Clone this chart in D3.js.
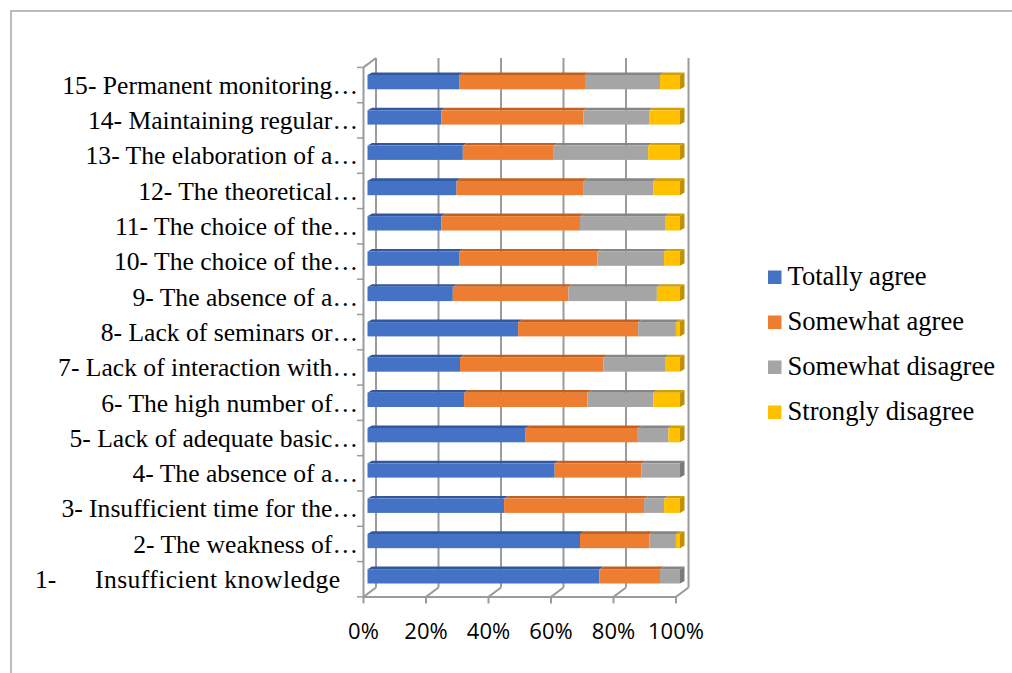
<!DOCTYPE html>
<html>
<head>
<meta charset="utf-8">
<script src="https://cdn.jsdelivr.net/npm/d3@7"></script>
<style>
  html, body { margin: 0; padding: 0; background: #fff; }
  svg { display: block; }
</style>
</head>
<body>
<svg id="chart" width="1012" height="673"></svg>
<script>
// ---------------- data ----------------
const categories = [
  "1-\tInsufficient knowledge",
  "2- The weakness of…",
  "3- Insufficient time for the…",
  "4- The absence of a…",
  "5- Lack of adequate basic…",
  "6- The high number of…",
  "7- Lack of interaction with…",
  "8- Lack of seminars or…",
  "9- The absence of a…",
  "10- The choice of the…",
  "11- The choice of the…",
  "12- The theoretical…",
  "13- The elaboration of a…",
  "14- Maintaining regular…",
  "15- Permanent monitoring…"
];
const seriesNames = ["Totally agree", "Somewhat agree", "Somewhat disagree", "Strongly disagree"];
const totallyAgree     = [74.2, 68.0, 43.7, 59.9, 50.6, 30.9, 29.6, 48.2, 27.3, 29.3, 23.6, 28.5, 30.5, 23.6, 29.3];
const somewhatAgree    = [19.4, 22.2, 44.8, 27.8, 35.9, 39.5, 45.9, 38.4, 37.0, 44.3, 44.4, 40.7, 29.1, 45.5, 40.3];
const somewhatDisagree = [ 6.4,  8.5,  6.4, 12.3,  9.8, 21.1, 19.7, 12.1, 28.3, 21.3, 27.2, 22.2, 30.2, 21.0, 24.0];
const stronglyDisagree = [ 0.0,  1.3,  5.1,  0.0,  3.7,  8.5,  4.8,  1.3,  7.4,  5.1,  4.8,  8.6, 10.2,  9.9,  6.4];
const tickValues = [0, 20, 40, 60, 80, 100];
const tickLabels = ["0%", "20%", "40%", "60%", "80%", "100%"];
const colors = ["#4472C4", "#ED7D31", "#A5A5A5", "#FFC000"];
const topColors = ["#31589f", "#c2611f", "#858585", "#d29e00"];
const sideColors = ["#2f5597", "#b4571a", "#7a7a7a", "#bf9000"];

// ---------------- layout ----------------
const svg = d3.select("#chart");
const series = [totallyAgree, somewhatAgree, somewhatDisagree, stronglyDisagree];
const rows = categories.map((c, i) => {
  let acc = 0;
  const segs = series.map((s, k) => { const x0 = acc; acc += s[i]; return {k, x0, x1: acc, v: s[i]}; });
  return {cat: c, segs};
});

const xFront = d3.scaleLinear().domain([0, 100]).range([363.5, 676]);
const xBack  = d3.scaleLinear().domain([0, 100]).range([376, 688.5]);
const xBar   = d3.scaleLinear().domain([0, 100]).range([367.5, 680]);
const y = d3.scaleBand().domain(categories.slice().reverse()).range([67.4, 596.9]).paddingInner(0).paddingOuter(0);

const grid = "#9b9b9b";
const wallTop = 58, backFloor = 587.5, frontFloor = 596.9;

// outer frame
svg.append("path").attr("d", "M11,673 L11,11 L1012,11")
  .attr("fill", "none").attr("stroke", "#a6a6a6").attr("stroke-width", 1.5);

// back wall gridlines
svg.append("g").selectAll("line").data(tickValues).join("line")
  .attr("x1", d => xBack(d)).attr("x2", d => xBack(d))
  .attr("y1", wallTop).attr("y2", backFloor)
  .attr("stroke", grid).attr("stroke-width", 2);

// floor gridlines (diagonals)
svg.append("g").selectAll("line").data(tickValues).join("line")
  .attr("x1", d => xFront(d)).attr("x2", d => xBack(d))
  .attr("y1", frontFloor).attr("y2", backFloor)
  .attr("stroke", grid).attr("stroke-width", 2);

// front axis line + ticks
svg.append("line").attr("x1", xFront(0)).attr("x2", xFront(100))
  .attr("y1", frontFloor).attr("y2", frontFloor).attr("stroke", grid).attr("stroke-width", 2);
svg.append("g").selectAll("line").data(tickValues).join("line")
  .attr("x1", d => xFront(d)).attr("x2", d => xFront(d))
  .attr("y1", frontFloor).attr("y2", frontFloor + 6.5)
  .attr("stroke", grid).attr("stroke-width", 2);

// left wall: vertical axis + top diagonal
svg.append("line").attr("x1", xFront(0)).attr("x2", xFront(0))
  .attr("y1", y.range()[0]).attr("y2", frontFloor).attr("stroke", grid).attr("stroke-width", 2);
svg.append("line").attr("x1", xFront(0)).attr("x2", xBack(0))
  .attr("y1", y.range()[0]).attr("y2", wallTop).attr("stroke", grid).attr("stroke-width", 2);

// category ticks
const bounds = categories.map(c => y(c)).concat([y.range()[1]]);
svg.append("g").selectAll("line").data(bounds).join("line")
  .attr("x1", xFront(0) - 6.5).attr("x2", xFront(0))
  .attr("y1", d => d).attr("y2", d => d)
  .attr("stroke", grid).attr("stroke-width", 1.5);

// bars
const dx = 4.5, dy = -2.6, barOff = 7.6, barH = 14.3;
const bars = svg.append("g");
rows.forEach(r => {
  const top = y(r.cat) + barOff;
  const g = bars.append("g");
  const segs = r.segs.filter(s => s.v > 0);
  g.selectAll("path.top").data(segs).join("path")
    .attr("d", s => {
      const a = xBar(s.x0), b = xBar(s.x1);
      return `M${a},${top} L${b},${top} L${b + dx},${top + dy} L${a + dx},${top + dy} Z`;
    })
    .attr("fill", s => topColors[s.k]);
  g.selectAll("rect").data(segs).join("rect")
    .attr("x", s => xBar(s.x0)).attr("width", s => xBar(s.x1) - xBar(s.x0))
    .attr("y", top).attr("height", barH)
    .attr("fill", s => colors[s.k]);
  const last = segs[segs.length - 1];
  const e = xBar(last.x1);
  g.append("path")
    .attr("d", `M${e},${top} L${e + dx},${top + dy} L${e + dx},${top + dy + barH} L${e},${top + barH} Z`)
    .attr("fill", sideColors[last.k]);
});

// category labels
const labelG = svg.append("g").attr("font-family", "'Liberation Serif', 'Times New Roman', serif")
  .attr("font-size", 25.6).attr("fill", "#000");
categories.forEach(c => {
  const yy = y(c) + y.bandwidth() / 2 + 8.8;
  const parts = c.split("\t");
  if (parts.length > 1) {
    labelG.append("text").attr("x", 35).attr("y", yy).text(parts[0]);
    labelG.append("text").attr("x", 95).attr("y", yy).attr("textLength", 245).text(parts[1]);
  } else {
    labelG.append("text").attr("x", 358).attr("y", yy).attr("text-anchor", "end").text(c);
  }
});

// x tick labels
svg.append("g").selectAll("text").data(tickValues).join("text")
  .attr("x", d => xFront(d)).attr("y", 639.3)
  .attr("text-anchor", "middle")
  .attr("font-family", "'Open Sans', sans-serif").attr("font-size", 22).attr("fill", "#000")
  .text((d, i) => tickLabels[i]);

// legend
const leg = svg.append("g").attr("transform", "translate(768,277)");
const li = leg.selectAll("g").data(seriesNames).join("g")
  .attr("transform", (d, i) => `translate(0,${i * 45})`);
li.append("rect").attr("x", 0).attr("y", -6.5).attr("width", 13.5).attr("height", 13.5)
  .attr("fill", (d, i) => colors[i]);
li.append("text").attr("x", 19.5).attr("y", 7.5)
  .attr("font-family", "'Liberation Serif', 'Times New Roman', serif").attr("font-size", 26.6)
  .attr("fill", "#000").text(d => d);
</script>
</body>
</html>
